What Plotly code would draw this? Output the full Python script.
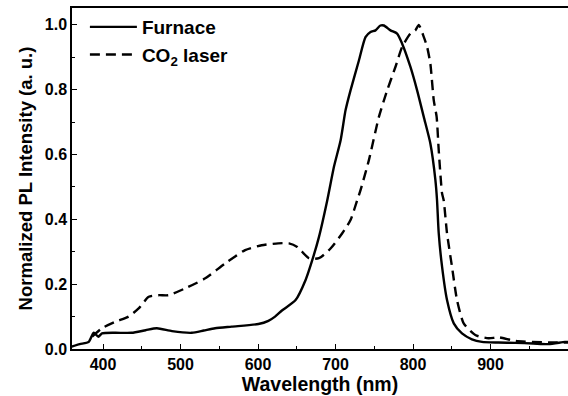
import plotly.graph_objects as go

# Photoluminescence spectra, normalized
furnace_wl = [358.5, 370, 381.6, 388, 394, 398.7, 415, 437, 455, 469.5, 489, 514.6, 530,
              544.7, 566, 600.5, 613.4, 622, 630.5, 648.5, 661.4, 670, 678.7, 689.4, 698,
              706.6, 713, 719.4, 730.2, 738.7, 745.2, 751.6, 758, 762.4, 771, 779.5, 786,
              796.7, 805.3, 813.9, 822.4, 828.9, 831, 833.2, 837.5, 843.9, 852.6, 863.2,
              876, 889, 910, 932, 955, 975, 996, 1000]
furnace_pl = [0.007, 0.015, 0.022, 0.05, 0.038, 0.048, 0.05, 0.05, 0.058, 0.064, 0.055, 0.05,
              0.057, 0.064, 0.069, 0.077, 0.087, 0.1, 0.118, 0.151, 0.213, 0.274, 0.346, 0.459,
              0.562, 0.644, 0.737, 0.798, 0.89, 0.962, 0.978, 0.983, 0.998, 0.998, 0.983,
              0.973, 0.942, 0.87, 0.798, 0.716, 0.634, 0.521, 0.459, 0.357, 0.254, 0.151,
              0.079, 0.048, 0.03, 0.022, 0.02, 0.019, 0.017, 0.015, 0.022, 0.022]

laser_wl = [386, 398.7, 416, 433, 446, 459, 471.7, 484.6, 506, 532, 557.6, 583.4, 604.8,
            626, 640, 650.7, 665.8, 678.7, 693.6, 708.7, 719.4, 728, 732.3, 743, 756,
            766.7, 777.3, 786, 796.7, 803, 807.5, 814, 818.2, 822.4, 826.8, 830.5, 833.2,
            837.5, 839.6, 843.9, 850.3, 856.8, 865.4, 880.4, 897.6, 910.5, 932, 975, 1000]
laser_pl = [0.038, 0.064, 0.084, 0.1, 0.125, 0.161, 0.166, 0.166, 0.187, 0.218, 0.264, 0.305,
            0.32, 0.326, 0.326, 0.315, 0.28, 0.28, 0.31, 0.357, 0.398, 0.459, 0.49, 0.582,
            0.716, 0.798, 0.87, 0.932, 0.973, 0.983, 1.0, 0.962, 0.932, 0.88, 0.767, 0.716,
            0.613, 0.48, 0.459, 0.357, 0.254, 0.151, 0.079, 0.043, 0.033, 0.036, 0.025,
            0.02, 0.02]

FONT = "Liberation Sans, Arial, sans-serif"

fig = go.Figure()
fig.add_trace(go.Scatter(x=furnace_wl, y=furnace_pl, mode="lines", name="Furnace",
                         line=dict(color="black", width=2.4, shape="spline", smoothing=0.6)))
fig.add_trace(go.Scatter(x=laser_wl, y=laser_pl, mode="lines", name="CO<sub>2</sub> laser",
                         line=dict(color="black", width=2.4, dash="10px,6px",
                                   shape="spline", smoothing=0.6)))

axis_common = dict(
    showgrid=False, zeroline=False, showline=True, linecolor="black", linewidth=1.5,
    ticks="inside", ticklen=5, tickwidth=1.2, tickcolor="black",
    tickfont=dict(family=FONT, size=16, color="black", weight="bold"),
)

fig.update_xaxes(
    **axis_common, range=[360, 1000], dtick=100, tick0=0, mirror=True,
    minor=dict(ticks="inside", ticklen=3, dtick=50, tick0=0, tickcolor="black", tickwidth=1.2),
    title=dict(text="Wavelength (nm)", standoff=2,
               font=dict(family=FONT, size=19.5, color="black", weight="bold")),
)
fig.update_yaxes(
    **axis_common, range=[0, 1.052], dtick=0.2, tick0=0, tickformat=".1f",
    minor=dict(ticks="inside", ticklen=3, dtick=0.1, tick0=0, tickcolor="black", tickwidth=1.2),
    title=dict(text="Normalized PL Intensity (a. u.)", standoff=7,
               font=dict(family=FONT, size=18.5, color="black", weight="bold")),
)

fig.update_layout(
    width=568, height=396,
    margin=dict(l=72, r=0, t=8, b=47),
    plot_bgcolor="white", paper_bgcolor="white",
    legend=dict(x=0.026, y=1.0, xanchor="left", yanchor="top", bgcolor="rgba(0,0,0,0)",
                font=dict(family=FONT, size=19, color="black", weight="bold"),
                tracegroupgap=0, itemwidth=47),
)

fig.write_html("out.html")
